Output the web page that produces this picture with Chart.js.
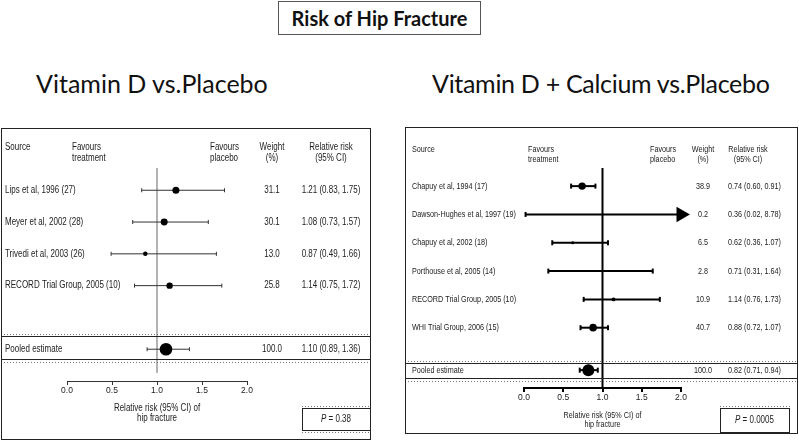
<!DOCTYPE html>
<html>
<head>
<meta charset="utf-8">
<script src="https://cdn.jsdelivr.net/npm/chart.js@4.4.1/dist/chart.umd.min.js"></script>
<style>
  body { margin: 0; background: #fff; }
  #page { position: relative; width: 799px; height: 441px; overflow: hidden; }
  #title {
    position: absolute; left: 278px; top: 1px; width: 203px; height: 34px;
    border: 1px solid #555; box-sizing: border-box;
    font: bold 20px Lato, sans-serif; text-align: center; line-height: 32px; color: #111;
  }
  .sub { position: absolute; top: 68px; font: 25px Lato, sans-serif; color: #111; white-space: nowrap; }
  canvas { position: absolute; }
</style>
</head>
<body>
<div id="page">
  <div id="title">Risk of Hip Fracture</div>
  <div class="sub" style="left:36px">Vitamin D vs.Placebo</div>
  <div class="sub" style="left:432px;letter-spacing:-0.3px">Vitamin D + Calcium vs.Placebo</div>
  <canvas id="vdChart" width="370" height="312" style="left:1px;top:128px"></canvas>
  <canvas id="vdcChart" width="393" height="307" style="left:405px;top:127px"></canvas>
</div>
<script>
// Vitamin D vs placebo
const vdSources = ['Lips et al, 1996 (27)', 'Meyer et al, 2002 (28)', 'Trivedi et al, 2003 (26)', 'RECORD Trial Group, 2005 (10)'];
const vdWeights = [31.1, 30.1, 13.0, 25.8];
const vdRR = [1.21, 1.08, 0.87, 1.14];
const vdLow = [0.83, 0.73, 0.49, 0.75];
const vdHigh = [1.75, 1.57, 1.66, 1.72];
const vdPooled = [1.10, 0.89, 1.36];   // estimate, low, high
const vdP = '0.38';

// Vitamin D + calcium vs placebo
const vdcSources = ['Chapuy et al, 1994 (17)', 'Dawson-Hughes et al, 1997 (19)', 'Chapuy et al, 2002 (18)', 'Porthouse et al, 2005 (14)', 'RECORD Trial Group, 2005 (10)', 'WHI Trial Group, 2006 (15)'];
const vdcWeights = [38.9, 0.2, 6.5, 2.8, 10.9, 40.7];
const vdcRR = [0.74, 0.36, 0.62, 0.71, 1.14, 0.88];
const vdcLow = [0.60, 0.02, 0.36, 0.31, 0.76, 0.72];
const vdcHigh = [0.91, 8.78, 1.07, 1.64, 1.73, 1.07];
const vdcPooled = [0.82, 0.71, 0.94];
const vdcP = '0.0005';

const xTicks = [0, 0.5, 1, 1.5, 2];
const X_MIN = 0, X_MAX = 2;

const FONT = '"Liberation Sans", Arial, sans-serif';
Chart.defaults.font.family = FONT;

const fmt = (v) => v.toFixed(2);
const rrText = (e, l, h) => fmt(e) + ' (' + fmt(l) + ', ' + fmt(h) + ')';

// condensed text: the original uses a narrow Helvetica
function drawText(ctx, text, x, y, align, sx) {
  const w = ctx.measureText(text).width * sx;
  let left = x;
  if (align === 'center') left = x - w / 2;
  else if (align === 'right') left = x - w;
  ctx.save();
  ctx.translate(left, y);
  ctx.scale(sx, 1);
  ctx.textAlign = 'left';
  ctx.fillText(text, 0, 0);
  ctx.restore();
  return w;
}

function forestPlugin(cfg) {
  return {
    id: 'forest',
    beforeDatasetsDraw(chart) {
      const { ctx, chartArea, scales } = chart;
      const x1 = scales.x.getPixelForValue(1);
      ctx.save();
      // reference line at RR = 1
      ctx.strokeStyle = cfg.refColor;
      ctx.lineWidth = cfg.refWidth;
      ctx.beginPath();
      ctx.moveTo(x1, chartArea.top);
      ctx.lineTo(x1, chartArea.bottom - cfg.refGap);
      ctx.stroke();
      // pooled estimate box
      const py = scales.y.getPixelForValue(cfg.pooledRow);
      const W = chart.width;
      ctx.strokeStyle = '#222';
      ctx.lineWidth = 1;
      ctx.strokeRect(0.5, Math.round(py + cfg.poolBox[0]) + 0.5, W - 1, cfg.poolBox[1] - cfg.poolBox[0]);
      ctx.setLineDash([1, 2]);
      ctx.strokeStyle = '#777';
      ctx.beginPath();
      ctx.moveTo(0, Math.round(py + cfg.poolBox[0]) - 1.5);
      ctx.lineTo(W, Math.round(py + cfg.poolBox[0]) - 1.5);
      ctx.moveTo(0, Math.round(py + cfg.poolBox[1]) + 3.5);
      ctx.lineTo(W, Math.round(py + cfg.poolBox[1]) + 3.5);
      ctx.stroke();
      ctx.restore();
    },
    afterDraw(chart) {
      const { ctx, chartArea, scales } = chart;
      const c = cfg.cols;
      const sx = cfg.squeeze;
      ctx.save();
      // panel frame
      ctx.strokeStyle = '#222';
      ctx.lineWidth = 1;
      ctx.strokeRect(0.5, 0.5, chart.width - 1, chart.height - 1);

      ctx.fillStyle = '#222';
      ctx.font = cfg.fontSize + 'px ' + FONT;
      ctx.textBaseline = 'middle';
      // header
      const [h1, h2] = cfg.headerY;
      drawText(ctx, 'Source', c.source, h1, 'left', sx);
      drawText(ctx, 'Favours', c.treat, h1, 'left', sx);
      drawText(ctx, 'treatment', c.treat, h2, 'left', sx);
      drawText(ctx, 'Favours', c.placebo, h1, 'left', sx);
      drawText(ctx, 'placebo', c.placebo, h2, 'left', sx);
      drawText(ctx, 'Weight', c.weight, h1, 'center', sx);
      drawText(ctx, '(%)', c.weight, h2, 'center', sx);
      drawText(ctx, 'Relative risk', c.rrHead, h1, 'center', sx);
      drawText(ctx, '(95% CI)', c.rrHead, h2, 'center', sx);

      // rows
      const rowsText = cfg.sources.map((s, i) => [s, cfg.weights[i].toFixed(1), rrText(cfg.rr[i], cfg.low[i], cfg.high[i]), i]);
      rowsText.push(['Pooled estimate', '100.0', rrText(cfg.pooled[0], cfg.pooled[1], cfg.pooled[2]), cfg.pooledRow]);
      rowsText.forEach(([s, w, r, row]) => {
        const y = scales.y.getPixelForValue(row);
        drawText(ctx, s, c.source, y, 'left', sx);
        drawText(ctx, w, c.weight, y, 'center', sx);
        drawText(ctx, r, c.rr, y, c.rrAlign, sx);
      });

      // axis title
      const xc = scales.x.getPixelForValue(1);
      drawText(ctx, 'Relative risk (95% CI) of', xc, chartArea.bottom + cfg.axisTitle[0], 'center', sx);
      drawText(ctx, 'hip fracture', xc, chartArea.bottom + cfg.axisTitle[1], 'center', sx);

      // P value box
      const [bx, by, bw, bh] = cfg.pBox;
      ctx.strokeRect(bx + 0.5, by + 0.5, bw, bh);
      ctx.setLineDash([1, 2]);
      ctx.strokeStyle = '#777';
      ctx.beginPath();
      ctx.moveTo(bx, by - 1.5); ctx.lineTo(bx + bw + 1, by - 1.5);
      ctx.moveTo(bx, by + bh + 2.5); ctx.lineTo(bx + bw + 1, by + bh + 2.5);
      ctx.stroke();
      ctx.setLineDash([]);
      const ptxt = ' = ' + cfg.p;
      const pf = 10;
      ctx.font = 'italic ' + pf + 'px ' + FONT;
      const wP = ctx.measureText('P').width * 0.8;
      ctx.font = pf + 'px ' + FONT;
      const wR = ctx.measureText(ptxt).width * 0.8;
      const x0 = bx + bw / 2 - (wP + wR) / 2;
      ctx.font = 'italic ' + pf + 'px ' + FONT;
      drawText(ctx, 'P', x0, by + bh / 2 + 0.5, 'left', 0.8);
      ctx.font = pf + 'px ' + FONT;
      drawText(ctx, ptxt, x0 + wP, by + bh / 2 + 0.5, 'left', 0.8);
      ctx.restore();
    }
  };
}

function buildForest(canvasId, cfg) {
  const rows = cfg.sources.map((s, i) => i);
  const markR = (w) => cfg.markScale * Math.sqrt(w);
  const ciSets = cfg.low.map((lo, i) => {
    const clipped = cfg.high[i] > X_MAX;
    return {
      type: 'line',
      data: [{ x: lo, y: rows[i] }, { x: Math.min(cfg.high[i], X_MAX), y: rows[i] }],
      borderColor: cfg.ciColor, borderWidth: cfg.ciWidth,
      pointStyle: ['line', clipped ? 'triangle' : 'line'],
      rotation: 90,
      pointRadius: [cfg.capR, clipped ? 7 : cfg.capR],
      pointBorderColor: cfg.ciColor, pointBackgroundColor: '#000',
      pointBorderWidth: cfg.ciWidth,
      clip: false, order: 2
    };
  });
  ciSets.push({
    type: 'line',
    data: [{ x: cfg.pooled[1], y: cfg.pooledRow }, { x: cfg.pooled[2], y: cfg.pooledRow }],
    borderColor: cfg.ciColor, borderWidth: cfg.ciWidth,
    pointStyle: 'line', rotation: 90, pointRadius: cfg.capR,
    pointBorderColor: cfg.ciColor, pointBorderWidth: cfg.ciWidth,
    clip: false, order: 2
  });
  const pts = {
    type: 'scatter',
    data: cfg.rr.map((v, i) => ({ x: v, y: rows[i] })).concat([{ x: cfg.pooled[0], y: cfg.pooledRow }]),
    pointRadius: cfg.weights.map(markR).concat([markR(100)]),
    backgroundColor: '#000', borderWidth: 0,
    clip: false, order: 1
  };
  return new Chart(document.getElementById(canvasId), {
    type: 'scatter',
    data: { datasets: [pts].concat(ciSets) },
    options: {
      responsive: false, animation: false, events: [],
      layout: { padding: cfg.padding },
      plugins: { legend: { display: false }, tooltip: { enabled: false } },
      scales: {
        x: {
          type: 'linear', min: X_MIN, max: X_MAX, position: 'bottom', offset: false,
          afterBuildTicks: (s) => { s.ticks = xTicks.map(v => ({ value: v })); },
          ticks: { callback: (v) => Number(v).toFixed(1), color: '#222', font: { size: 8.5 }, padding: 1, autoSkip: false, maxRotation: 0 },
          grid: { drawOnChartArea: false, drawTicks: true, tickLength: 4, color: cfg.axisColor, lineWidth: cfg.axisWidth },
          border: { display: true, color: cfg.axisColor, width: cfg.axisWidth },
          afterFit: (s) => { s.height = 20; }
        },
        y: { type: 'linear', reverse: true, min: cfg.yRange[0], max: cfg.yRange[1], display: false }
      }
    },
    plugins: [forestPlugin(cfg)]
  });
}

buildForest('vdChart', {
  sources: vdSources, weights: vdWeights, rr: vdRR, low: vdLow, high: vdHigh,
  pooled: vdPooled, p: vdP,
  pooledRow: vdSources.length + 1, yRange: [-0.7, 6.0],
  padding: { left: 66, right: 124, top: 40, bottom: 39 },
  markScale: 0.63, capR: 2, ciColor: '#333', ciWidth: 1,
  refColor: '#9a9a9a', refWidth: 1.5, refGap: 8,
  axisColor: '#333', axisWidth: 1,
  fontSize: 10, squeeze: 0.8,
  headerY: [19, 30],
  cols: { source: 4, treat: 71, placebo: 209, weight: 271, rrHead: 330, rr: 330, rrAlign: 'center' },
  poolBox: [-13, 10], axisTitle: [27, 37],
  pBox: [301, 280, 68, 22]
});

buildForest('vdcChart', {
  sources: vdcSources, weights: vdcWeights, rr: vdcRR, low: vdcLow, high: vdcHigh,
  pooled: vdcPooled, p: vdcP,
  pooledRow: vdcSources.length + 0.5, yRange: [-0.64, 7.13],
  padding: { left: 119, right: 117, top: 41, bottom: 26 },
  markScale: 0.6, capR: 2.5, ciColor: '#000', ciWidth: 2,
  refColor: '#000', refWidth: 2, refGap: 0,
  axisColor: '#000', axisWidth: 2,
  fontSize: 9.5, squeeze: 0.76,
  headerY: [22, 32],
  cols: { source: 7, treat: 123, placebo: 245, weight: 298, rrHead: 343, rr: 323, rrAlign: 'left' },
  poolBox: [-7, 8], axisTitle: [27, 36],
  pBox: [315, 281, 69, 24]
});
</script>
</body>
</html>
